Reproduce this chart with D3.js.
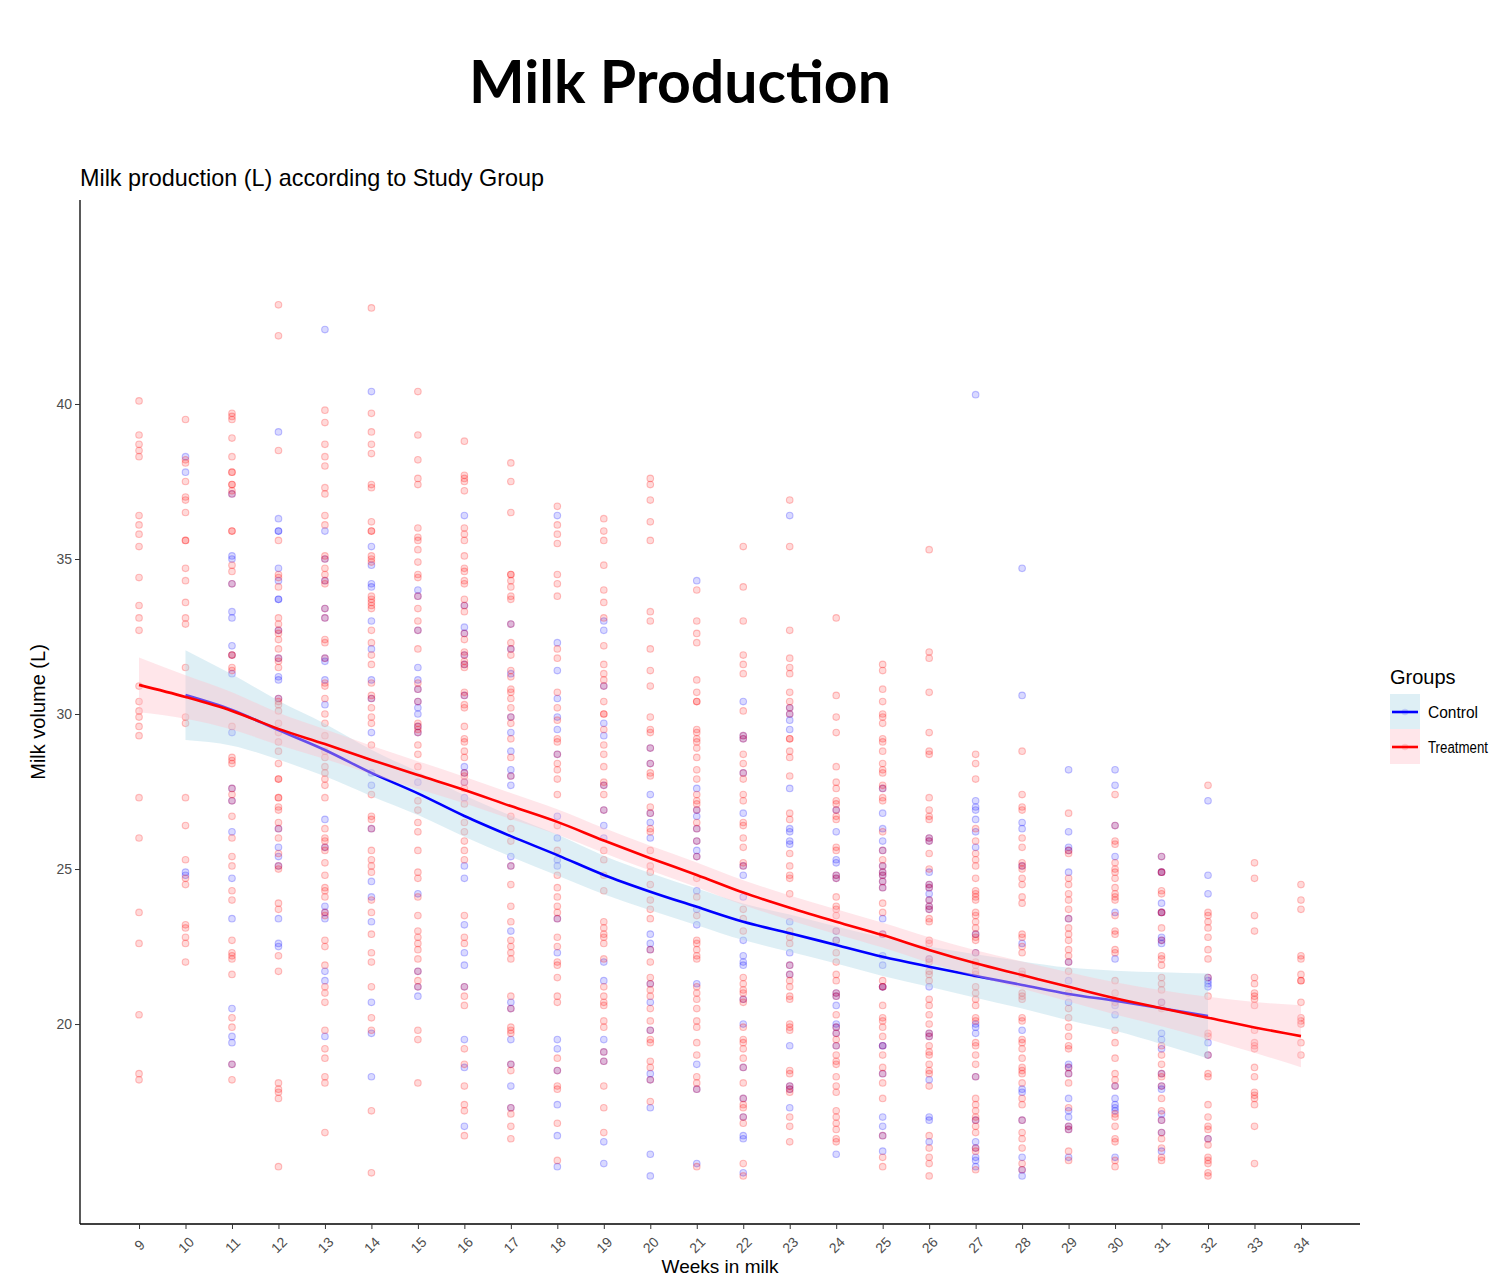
<!DOCTYPE html>
<html>
<head>
<meta charset="utf-8">
<script src="https://cdn.jsdelivr.net/npm/d3@7"></script>
<style>
  body { margin: 0; background: #fff; }
  text { font-family: "Liberation Sans", Arial, sans-serif; }
</style>
</head>
<body>
<div id="chart"></div>
<script>
// weeks in milk shown on the x axis
const weeks = [9, 10, 11, 12, 13, 14, 15, 16, 17, 18, 19, 20, 21, 22, 23, 24, 25, 26, 27, 28, 29, 30, 31, 32, 33, 34];
const yTicks = [20, 25, 30, 35, 40];

// raw observations, one list per week (same order as weeks)
const controlPoints = [
  [],
  [38.3, 37.8, 24.9, 24.8],
  [37.1, 35.1, 35.0, 34.2, 33.3, 33.1, 32.2, 31.9, 31.3, 29.4, 27.6, 27.2, 26.2, 24.7, 23.4, 20.5, 19.6, 19.4, 18.7],
  [39.1, 36.3, 35.9, 35.9, 34.7, 34.3, 33.7, 33.7, 32.7, 31.8, 31.2, 31.1, 30.5, 26.3, 25.7, 25.4, 25.1, 23.4, 22.6, 22.5],
  [42.4, 35.9, 35.0, 34.3, 33.4, 33.1, 31.8, 31.7, 31.1, 30.3, 26.6, 25.7, 23.8, 23.6, 23.4, 21.7, 21.4, 19.6],
  [40.4, 35.4, 34.8, 34.2, 34.1, 33.0, 32.1, 31.1, 30.5, 29.4, 28.1, 27.7, 26.3, 24.6, 24.1, 23.3, 20.7, 19.7, 18.3],
  [34.0, 33.8, 32.7, 31.5, 31.1, 30.8, 30.4, 30.2, 30.0, 29.6, 29.4, 27.8, 24.2, 21.7, 21.2, 20.9],
  [36.4, 33.5, 32.8, 32.6, 31.9, 31.6, 30.6, 28.3, 28.1, 27.8, 27.3, 25.1, 24.7, 23.2, 22.3, 21.9, 21.2, 19.5, 18.6, 16.7],
  [32.9, 32.1, 31.3, 29.9, 29.4, 28.8, 28.2, 28.0, 27.7, 25.4, 25.1, 23.0, 20.7, 20.5, 19.5, 18.7, 18.0, 17.3],
  [36.4, 32.3, 31.4, 30.5, 29.9, 29.5, 28.7, 26.7, 26.0, 25.3, 25.1, 23.4, 22.3, 19.5, 19.2, 18.5, 17.4, 16.4, 15.4],
  [33.0, 32.7, 30.9, 29.7, 29.3, 27.7, 26.9, 26.4, 26.0, 22.0, 21.4, 19.5, 19.1, 18.8, 16.2, 15.5],
  [28.9, 28.4, 27.4, 26.8, 26.5, 26.0, 22.9, 22.6, 22.4, 21.3, 20.7, 19.8, 18.4, 18.2, 17.3, 15.8, 15.1],
  [34.3, 27.6, 26.9, 26.7, 26.3, 25.9, 25.6, 25.4, 24.3, 23.7, 23.2, 21.3, 18.7, 17.9, 15.5],
  [30.4, 29.3, 29.2, 28.1, 26.8, 25.1, 24.8, 24.1, 22.7, 22.2, 22.0, 21.9, 20.8, 20.0, 18.6, 17.6, 17.0, 16.4, 16.3, 15.2],
  [36.4, 30.2, 30.0, 29.8, 29.5, 27.6, 26.3, 26.2, 25.9, 25.8, 23.3, 22.3, 21.9, 21.6, 19.3, 18.0, 17.9, 17.3],
  [26.9, 26.2, 25.3, 25.2, 24.8, 24.7, 23.0, 22.7, 21.0, 20.9, 20.6, 20.0, 19.9, 19.7, 19.3, 15.8],
  [27.6, 26.8, 26.3, 25.9, 25.6, 25.1, 24.9, 24.8, 24.6, 24.4, 23.4, 22.9, 22.2, 21.9, 21.2, 21.2, 19.3, 19.3, 18.4, 17.0, 16.7, 16.4, 15.9],
  [26.0, 25.9, 24.9, 24.5, 24.4, 24.2, 24.0, 23.8, 23.7, 22.1, 21.2, 19.7, 19.6, 18.2, 17.0, 16.9, 16.2],
  [40.3, 27.2, 27.0, 26.9, 26.6, 26.2, 25.7, 22.9, 22.3, 20.0, 19.9, 19.7, 18.3, 16.9, 16.2, 16.0, 15.7, 15.6, 15.4],
  [34.7, 30.6, 26.5, 26.3, 25.1, 22.6, 19.8, 17.9, 17.8, 16.9, 15.7, 15.3, 15.1],
  [28.2, 26.2, 25.7, 25.6, 24.9, 23.4, 22.0, 21.4, 20.7, 18.7, 18.6, 18.4, 17.6, 17.2, 17.0, 16.7, 16.6, 15.7],
  [28.2, 27.7, 26.4, 25.4, 23.6, 22.1, 20.6, 20.3, 18.0, 17.6, 17.4, 17.3, 17.2, 15.7],
  [25.4, 24.9, 24.9, 23.9, 23.6, 23.6, 22.8, 22.7, 22.6, 20.7, 19.7, 19.5, 19.2, 18.4, 18.0, 17.9, 17.1, 16.9, 16.5, 15.9],
  [27.2, 24.8, 24.2, 21.5, 21.4, 21.3, 21.2, 19.4, 19.0, 16.3],
  [],
  []
];

const treatmentPoints = [
  [40.1, 39.0, 38.7, 38.5, 38.3, 36.4, 36.1, 35.8, 35.4, 34.4, 33.5, 33.1, 32.7, 30.9, 30.4, 30.1, 29.9, 29.6, 29.3, 27.3, 26.0, 23.6, 22.6, 20.3, 18.4, 18.2],
  [39.5, 38.2, 38.1, 37.5, 37.0, 36.9, 36.5, 35.6, 35.6, 34.7, 34.3, 33.6, 33.1, 32.9, 31.5, 29.9, 29.7, 27.3, 26.4, 25.3, 24.7, 24.5, 23.2, 23.1, 22.8, 22.6, 22.0],
  [39.7, 39.6, 39.5, 38.9, 38.3, 37.8, 37.8, 37.4, 37.4, 37.2, 37.1, 35.9, 35.9, 34.8, 34.6, 34.2, 31.9, 31.9, 31.5, 31.4, 29.6, 28.6, 28.5, 28.4, 27.6, 27.4, 27.2, 26.7, 26.0, 25.4, 25.1, 24.3, 24.0, 22.7, 22.3, 22.2, 22.1, 21.6, 20.2, 19.9, 18.7, 18.2],
  [43.2, 42.2, 38.5, 35.6, 34.5, 34.4, 34.1, 33.1, 32.9, 32.7, 32.6, 32.4, 32.1, 31.8, 31.7, 31.5, 30.5, 30.4, 30.3, 30.1, 29.7, 29.4, 29.1, 28.8, 28.4, 27.9, 27.9, 27.3, 27.3, 27.0, 26.9, 26.5, 26.3, 26.0, 25.5, 25.1, 25.0, 23.9, 23.7, 22.2, 21.7, 18.1, 17.9, 17.8, 17.6, 15.4],
  [39.8, 39.4, 38.7, 38.3, 38.0, 37.3, 37.1, 36.4, 36.1, 35.1, 35.0, 34.7, 34.5, 34.3, 34.2, 33.4, 33.1, 32.4, 32.3, 31.8, 31.0, 30.9, 30.5, 30.0, 29.7, 29.3, 28.8, 28.6, 28.3, 28.1, 27.9, 27.7, 27.3, 26.3, 26.0, 25.9, 25.7, 25.6, 25.2, 24.8, 24.4, 24.3, 24.1, 23.6, 23.5, 22.7, 22.5, 21.9, 21.2, 21.0, 20.7, 19.8, 19.2, 18.9, 18.3, 18.1, 16.5],
  [43.1, 39.7, 39.1, 38.7, 38.4, 37.4, 37.3, 36.2, 35.9, 35.9, 35.1, 35.0, 34.9, 33.8, 33.7, 33.6, 33.5, 33.4, 32.7, 32.3, 31.9, 31.6, 31.0, 30.6, 30.5, 30.2, 29.9, 29.7, 29.0, 27.4, 26.7, 26.6, 26.3, 25.6, 25.3, 25.1, 24.9, 24.0, 23.6, 22.9, 22.3, 22.0, 21.2, 20.2, 19.8, 17.2, 15.2],
  [40.4, 39.0, 38.2, 37.6, 37.4, 36.0, 35.7, 35.6, 35.3, 34.9, 34.5, 34.4, 33.8, 33.4, 33.0, 32.7, 32.1, 31.0, 30.8, 30.4, 29.7, 29.6, 29.5, 29.4, 29.0, 28.7, 28.3, 27.2, 26.9, 26.5, 26.2, 25.6, 24.9, 24.7, 24.1, 23.5, 23.0, 22.8, 22.6, 22.4, 22.1, 21.7, 21.4, 21.2, 19.8, 19.5, 18.1],
  [38.8, 37.7, 37.6, 37.5, 37.2, 36.0, 35.8, 35.6, 35.1, 34.7, 34.6, 34.3, 34.2, 33.7, 33.5, 33.3, 32.6, 32.4, 32.0, 31.9, 31.7, 31.6, 31.5, 30.7, 30.6, 30.3, 30.2, 29.6, 29.2, 29.1, 28.8, 28.6, 28.1, 28.0, 27.8, 27.6, 27.1, 26.5, 26.2, 25.9, 25.6, 25.3, 23.5, 22.8, 22.6, 21.2, 20.9, 20.6, 19.2, 18.7, 18.0, 17.4, 17.2, 16.4],
  [38.1, 37.5, 36.5, 34.5, 34.5, 34.3, 34.1, 33.8, 33.7, 32.9, 32.3, 32.1, 31.9, 31.4, 31.2, 30.8, 30.7, 30.5, 30.2, 29.9, 29.7, 29.2, 28.6, 28.0, 26.7, 26.3, 25.9, 25.1, 24.5, 23.8, 23.3, 22.7, 22.5, 22.3, 22.1, 20.9, 20.5, 19.9, 19.8, 19.7, 18.7, 18.5, 17.3, 17.1, 16.7, 16.3],
  [36.7, 36.1, 35.8, 35.5, 34.5, 34.2, 33.8, 32.1, 31.8, 30.7, 30.2, 29.8, 29.2, 29.1, 28.7, 28.4, 28.2, 27.9, 27.4, 26.4, 25.6, 24.8, 24.4, 24.1, 23.8, 23.6, 23.4, 22.8, 22.5, 22.0, 21.9, 21.5, 20.9, 20.7, 18.9, 18.5, 18.0, 17.9, 16.8, 15.6],
  [36.3, 35.9, 35.6, 34.8, 34.0, 33.6, 33.1, 32.2, 31.6, 31.3, 31.1, 30.9, 30.4, 30.0, 30.0, 29.5, 29.0, 28.7, 28.3, 27.8, 27.7, 27.4, 26.9, 25.6, 25.3, 24.8, 24.3, 23.3, 23.1, 22.9, 22.8, 22.6, 22.1, 21.2, 20.9, 20.7, 20.6, 20.1, 19.9, 19.1, 18.8, 18.0, 17.3, 16.5],
  [37.6, 37.4, 36.9, 36.2, 35.6, 33.3, 33.0, 32.1, 31.4, 30.9, 29.9, 29.5, 29.4, 28.9, 28.4, 28.1, 28.0, 27.0, 26.8, 26.3, 26.2, 25.6, 25.1, 24.9, 24.5, 24.0, 23.7, 23.4, 22.4, 22.0, 21.5, 21.3, 21.1, 20.9, 20.5, 20.1, 19.8, 19.5, 19.4, 18.8, 18.6, 18.2, 17.5],
  [34.0, 33.0, 32.6, 32.3, 31.1, 30.7, 30.4, 30.4, 29.5, 29.4, 29.2, 29.1, 28.9, 28.6, 28.2, 27.9, 27.4, 27.2, 27.1, 26.9, 26.5, 26.3, 25.9, 25.4, 24.7, 24.1, 23.5, 22.7, 22.6, 22.4, 22.2, 22.1, 21.2, 21.0, 20.8, 20.5, 20.1, 19.9, 19.4, 19.0, 18.3, 18.1, 17.9, 15.4],
  [35.4, 34.1, 33.0, 31.9, 31.6, 31.3, 30.1, 29.3, 29.2, 28.7, 28.4, 28.1, 27.9, 27.4, 27.2, 26.5, 26.4, 26.0, 25.7, 25.2, 25.1, 23.7, 23.4, 23.0, 21.5, 21.3, 21.1, 21.0, 20.8, 20.7, 19.9, 19.5, 19.4, 19.2, 18.9, 18.6, 18.1, 17.6, 17.4, 17.3, 17.0, 16.8, 15.5, 15.1],
  [36.9, 35.4, 32.7, 31.8, 31.5, 31.3, 30.7, 30.4, 30.2, 30.0, 29.2, 29.2, 28.8, 28.6, 28.0, 26.8, 26.6, 25.5, 25.1, 24.8, 24.7, 24.2, 23.0, 22.8, 22.6, 21.9, 21.6, 21.4, 21.2, 20.9, 20.8, 20.0, 19.9, 19.8, 18.5, 18.4, 18.0, 17.9, 17.8, 17.0, 16.7, 16.2],
  [33.1, 30.6, 29.9, 29.4, 28.3, 27.8, 27.6, 27.2, 27.1, 26.9, 26.7, 26.6, 25.7, 25.6, 24.8, 24.7, 24.1, 23.8, 23.7, 23.5, 23.0, 22.7, 22.3, 22.0, 21.6, 21.4, 21.0, 20.9, 20.3, 19.9, 19.7, 19.5, 19.3, 19.0, 18.8, 18.7, 18.3, 18.0, 17.8, 17.2, 17.0, 16.8, 16.6, 16.3, 16.2],
  [31.6, 31.4, 30.8, 30.4, 30.0, 29.9, 29.7, 29.2, 29.1, 28.8, 28.4, 28.2, 28.1, 27.7, 27.6, 27.3, 27.2, 26.2, 25.6, 25.3, 25.1, 24.9, 24.8, 24.6, 24.4, 23.9, 23.6, 22.9, 21.4, 21.2, 21.2, 20.6, 20.2, 20.1, 19.9, 19.6, 19.3, 19.0, 18.6, 18.4, 18.1, 17.6, 16.4, 15.7, 15.4],
  [35.3, 32.0, 31.8, 30.7, 29.4, 28.8, 28.7, 27.3, 26.9, 26.7, 26.6, 26.0, 25.9, 25.5, 25.0, 24.5, 24.4, 24.0, 23.8, 23.7, 23.4, 23.3, 22.7, 22.6, 22.1, 22.0, 21.7, 21.6, 21.4, 20.8, 20.6, 20.3, 20.0, 19.7, 19.6, 19.3, 19.1, 19.0, 18.7, 18.5, 18.4, 18.0, 16.4, 16.0, 15.7, 15.5, 15.1],
  [28.7, 28.4, 27.9, 26.3, 25.9, 25.5, 25.3, 25.1, 24.7, 24.3, 24.2, 24.1, 24.0, 23.6, 23.5, 23.3, 23.1, 22.9, 22.8, 22.7, 22.3, 22.0, 21.9, 21.7, 21.6, 21.2, 21.0, 20.8, 20.6, 20.2, 20.1, 19.4, 19.3, 19.0, 18.7, 18.3, 17.6, 17.4, 17.2, 17.0, 16.9, 16.7, 16.5, 16.0, 15.9, 15.3],
  [28.8, 27.4, 27.0, 26.9, 26.0, 25.7, 25.2, 25.1, 25.0, 24.7, 24.5, 24.1, 23.9, 22.9, 22.8, 22.5, 22.3, 21.7, 21.6, 21.0, 20.9, 20.8, 20.2, 20.1, 19.5, 19.4, 19.2, 18.9, 18.6, 18.5, 18.4, 18.1, 17.6, 17.4, 16.9, 16.5, 16.3, 16.0, 15.5, 15.3],
  [26.8, 25.6, 25.5, 24.7, 24.5, 24.2, 24.0, 23.7, 23.4, 23.1, 22.9, 22.7, 22.4, 22.2, 22.0, 21.7, 21.0, 20.5, 20.2, 19.9, 19.6, 19.3, 19.2, 18.6, 18.4, 18.1, 17.3, 16.7, 16.6, 15.9, 15.6],
  [27.4, 26.4, 25.9, 25.8, 25.2, 25.0, 24.9, 24.7, 24.4, 24.2, 24.1, 24.0, 23.5, 23.0, 22.9, 22.4, 22.3, 21.4, 21.0, 20.7, 19.8, 19.4, 18.9, 18.4, 18.2, 18.0, 17.1, 17.0, 16.7, 16.3, 16.2, 15.6, 15.4],
  [25.4, 24.9, 24.9, 24.3, 24.2, 23.6, 23.6, 23.1, 22.7, 22.2, 22.1, 21.9, 21.5, 21.3, 21.1, 20.7, 20.5, 19.3, 19.0, 18.7, 18.4, 18.3, 18.0, 17.6, 17.2, 16.9, 16.5, 16.3, 16.0, 15.7, 15.6],
  [27.7, 23.6, 23.5, 23.3, 23.1, 22.8, 22.4, 22.1, 21.5, 20.9, 19.7, 19.6, 19.0, 18.4, 18.3, 17.4, 17.0, 16.7, 16.6, 16.3, 16.1, 15.7, 15.6, 15.5, 15.2, 15.1],
  [25.2, 24.7, 23.5, 23.0, 21.5, 21.3, 21.0, 20.9, 20.8, 20.6, 19.8, 19.4, 19.3, 19.2, 18.6, 18.3, 17.8, 17.7, 17.6, 17.4, 16.7, 15.5],
  [24.5, 24.0, 23.7, 22.2, 22.1, 21.6, 21.4, 21.4, 20.7, 20.2, 20.1, 20.0, 19.4, 19.0]
];

// loess fits with 95% band
const controlWeeks = [10, 11, 12, 13, 14, 15, 16, 17, 18, 19, 20, 21, 22, 23, 24, 25, 26, 27, 28, 29, 30, 31, 32];
const controlFit = [30.61, 30.13, 29.48, 28.84, 28.10, 27.44, 26.71, 26.06, 25.45, 24.81, 24.27, 23.78, 23.30, 22.93, 22.55, 22.17, 21.85, 21.55, 21.26, 20.97, 20.75, 20.51, 20.26];
const controlLow = [29.16, 28.98, 28.53, 27.99, 27.35, 26.74, 26.04, 25.40, 24.79, 24.19, 23.67, 23.19, 22.71, 22.33, 21.95, 21.55, 21.20, 20.85, 20.50, 20.12, 19.78, 19.35, 18.89];
const controlHigh = [32.06, 31.28, 30.43, 29.69, 28.85, 28.14, 27.38, 26.72, 26.11, 25.43, 24.87, 24.37, 23.89, 23.53, 23.15, 22.79, 22.50, 22.25, 22.02, 21.82, 21.72, 21.67, 21.63];

const treatmentFit = [30.94, 30.55, 30.10, 29.52, 29.03, 28.52, 28.03, 27.55, 27.03, 26.52, 25.92, 25.35, 24.81, 24.24, 23.75, 23.30, 22.87, 22.39, 21.96, 21.58, 21.20, 20.83, 20.51, 20.20, 19.89, 19.61];
const treatmentLow = [30.06, 29.85, 29.50, 29.00, 28.55, 28.06, 27.58, 27.12, 26.61, 26.11, 25.52, 24.95, 24.41, 23.84, 23.35, 22.90, 22.47, 21.98, 21.54, 21.14, 20.73, 20.31, 19.93, 19.52, 19.07, 18.61];
const treatmentHigh = [31.82, 31.25, 30.70, 30.04, 29.51, 28.98, 28.48, 27.98, 27.45, 26.93, 26.32, 25.75, 25.21, 24.64, 24.15, 23.70, 23.27, 22.80, 22.38, 22.02, 21.67, 21.35, 21.09, 20.88, 20.71, 20.61];

const groups = ["Control", "Treatment"];
const lineColors = ["blue", "red"];
const bandColors = ["#add8e6", "#ffc0cb"];

const svgWidth = 1497;
const svgHeight = 1279;

const margin = { top: 200, right: 137, bottom: 55, left: 80 };

const svg = d3.select("#chart").append("svg")
    .attr("width", svgWidth)
    .attr("height", svgHeight)
    .style("display", "block");

svg.append("rect")
    .attr("width", svgWidth)
    .attr("height", svgHeight)
    .attr("fill", "#fff");

const x = d3.scaleLinear()
    .domain([7.73, 35.27])
    .range([margin.left, svgWidth - margin.right]);

const y = d3.scaleLinear()
    .domain([13.55, 46.58])
    .range([svgHeight - margin.bottom, margin.top]);

// slide title + plot title
svg.append("text")
    .attr("x", 469)
    .attr("y", 103)
    .attr("textLength", 422)
    .attr("lengthAdjust", "spacingAndGlyphs")
    .style("font-family", "Lato, 'Open Sans', sans-serif")
    .style("font-weight", "700")
    .style("font-size", "60px")
    .text("Milk Production");

svg.append("text")
    .attr("x", 80)
    .attr("y", 186)
    .attr("textLength", 464)
    .attr("lengthAdjust", "spacingAndGlyphs")
    .style("font-size", "24px")
    .attr("fill", "#000")
    .text("Milk production (L) according to Study Group");

// points
const toPoints = (lists, group) => weeks.flatMap((w, i) =>
    lists[i].map(v => ({ week: w, value: v, group: group })));

const points = toPoints(controlPoints, "Control").concat(toPoints(treatmentPoints, "Treatment"));
const color = d3.scaleOrdinal().domain(groups).range(lineColors);

svg.append("g")
    .selectAll("circle")
    .data(points)
    .join("circle")
    .attr("cx", d => x(d.week))
    .attr("cy", d => y(d.value))
    .attr("r", 3.3)
    .attr("fill", d => color(d.group))
    .attr("fill-opacity", 0.15)
    .attr("stroke", d => color(d.group))
    .attr("stroke-opacity", 0.24)
    .attr("stroke-width", 1.1);

// smooth + ribbon, control drawn first then treatment on top
const fits = [
    { weeks: controlWeeks, fit: controlFit, low: controlLow, high: controlHigh },
    { weeks: weeks, fit: treatmentFit, low: treatmentLow, high: treatmentHigh }
];

fits.forEach((f, k) => {
    const rows = f.weeks.map((w, i) => ({ week: w, fit: f.fit[i], low: f.low[i], high: f.high[i] }));

    const area = d3.area()
        .x(d => x(d.week))
        .y0(d => y(d.low))
        .y1(d => y(d.high))
        .curve(d3.curveMonotoneX);

    const line = d3.line()
        .x(d => x(d.week))
        .y(d => y(d.fit))
        .curve(d3.curveMonotoneX);

    svg.append("path")
        .datum(rows)
        .attr("d", area)
        .attr("fill", bandColors[k])
        .attr("fill-opacity", 0.4);

    svg.append("path")
        .datum(rows)
        .attr("d", line)
        .attr("fill", "none")
        .attr("stroke", lineColors[k])
        .attr("stroke-width", 2.6);
});

// axes
const xAxis = g => g
    .attr("transform", `translate(0,${svgHeight - margin.bottom})`)
    .call(d3.axisBottom(x).tickValues(weeks).tickSize(5).tickSizeOuter(0).tickFormat(d3.format("d")))
    .call(g => g.select(".domain").attr("stroke", "#000").attr("stroke-width", 1.3)
        .attr("d", `M${margin.left},0H${svgWidth - margin.right}`))
    .call(g => g.selectAll(".tick line").attr("stroke", "#333"))
    .call(g => g.selectAll(".tick text")
        .attr("fill", "#4d4d4d")
        .style("font-size", "14px")
        .attr("y", 0)
        .attr("dy", 0)
        .attr("text-anchor", "middle")
        .attr("dominant-baseline", "central")
        .attr("transform", "translate(0,21) rotate(-45)"));

const yAxis = g => g
    .attr("transform", `translate(${margin.left},0)`)
    .call(d3.axisLeft(y).tickValues(yTicks).tickSize(5).tickSizeOuter(0))
    .call(g => g.select(".domain").attr("stroke", "#000").attr("stroke-width", 1.3)
        .attr("d", `M0,${margin.top}V${svgHeight - margin.bottom}`))
    .call(g => g.selectAll(".tick line").attr("stroke", "#333"))
    .call(g => g.selectAll(".tick text")
        .attr("fill", "#4d4d4d")
        .style("font-size", "14px")
        .attr("x", -8));

svg.append("g").call(xAxis);
svg.append("g").call(yAxis);

svg.append("text")
    .attr("transform", `translate(45,${(margin.top + svgHeight - margin.bottom) / 2}) rotate(-90)`)
    .attr("text-anchor", "middle")
    .style("font-size", "20px")
    .text("Milk volume (L)");

// keep the axis title just inside the bottom edge
svg.append("text")
    .attr("x", (margin.left + svgWidth - margin.right) / 2)
    .attr("y", 1273)
    .attr("text-anchor", "middle")
    .style("font-size", "19px")
    .text("Weeks in milk");

// legend
const legend = svg.append("g").attr("transform", "translate(1390,0)");

legend.append("text")
    .attr("x", 0)
    .attr("y", 684)
    .style("font-size", "20px")
    .text("Groups");

const labelWidths = [50, 60];

groups.forEach((name, k) => {
    const top = 694 + k * 35;
    legend.append("rect")
        .attr("x", 0)
        .attr("y", top)
        .attr("width", 30)
        .attr("height", 35)
        .attr("fill", bandColors[k])
        .attr("fill-opacity", 0.4);
    legend.append("circle")
        .attr("cx", 15)
        .attr("cy", top + 18)
        .attr("r", 3.3)
        .attr("fill", lineColors[k])
        .attr("fill-opacity", 0.14);
    legend.append("line")
        .attr("x1", 2)
        .attr("x2", 28)
        .attr("y1", top + 18)
        .attr("y2", top + 18)
        .attr("stroke", lineColors[k])
        .attr("stroke-width", 2.6);
    legend.append("text")
        .attr("x", 38)
        .attr("y", top + 24)
        .attr("textLength", labelWidths[k])
        .attr("lengthAdjust", "spacingAndGlyphs")
        .style("font-size", "16px")
        .text(name);
});
</script>
</body>
</html>
